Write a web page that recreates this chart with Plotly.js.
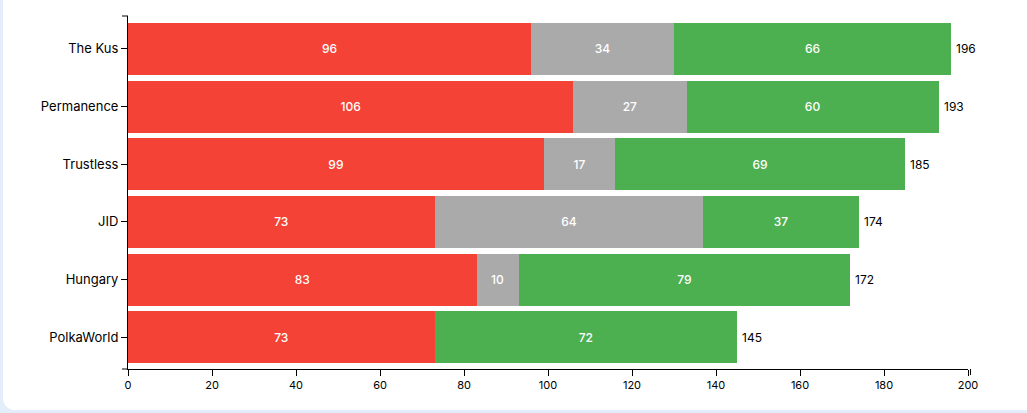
<!DOCTYPE html>
<html>
<head>
<meta charset="utf-8">
<script src="https://cdn.plot.ly/plotly-3.0.1.min.js"></script>
<style>
  html, body { margin: 0; padding: 0; width: 1027px; height: 413px; overflow: hidden; background: #e4eefb; }
  #card { position: absolute; left: 3px; top: -20px; width: 1060px; height: 430px; background: #ffffff; border-radius: 12px; }
  #chart { position: absolute; left: 0; top: 0; width: 1027px; height: 413px; }
</style>
</head>
<body>
<div id="card"></div>
<div id="chart"></div>
<script>
const categories = ["The Kus", "Permanence", "Trustless", "JID", "Hungary", "PolkaWorld"];
const redValues = [96, 106, 99, 73, 83, 73];
const greyValues = [34, 27, 17, 64, 10, 0];
const greenValues = [66, 60, 69, 37, 79, 72];
const xTicks = [0, 20, 40, 60, 80, 100, 120, 140, 160, 180, 200];

const totals = categories.map((c, i) => redValues[i] + greyValues[i] + greenValues[i]);

function barTrace(vals, color) {
  return {
    type: "bar",
    orientation: "h",
    y: categories,
    x: vals,
    width: 0.9,
    marker: { color: color, line: { width: 0 } },
    text: vals.map(v => v > 0 ? String(v) : ""),
    textposition: "inside",
    insidetextanchor: "middle",
    textfont: { color: "#ffffff", size: 12, family: "Inter, sans-serif", weight: 500 },
    constraintext: "none",
    hoverinfo: "skip"
  };
}

const data = [
  barTrace(redValues, "#f44336"),
  barTrace(greyValues, "#aaaaaa"),
  barTrace(greenValues, "#4caf50")
];

const annotations = categories.map((c, i) => ({
  x: totals[i], y: c, xref: "x", yref: "y",
  text: String(totals[i]), showarrow: false,
  xanchor: "left", xshift: 3,
  font: { size: 12, color: "#000000", family: "Inter, sans-serif" }
}));

const axisColor = "#000000";

const layout = {
  width: 1027, height: 413,
  margin: { l: 128, r: 59, t: 16, b: 44 },
  paper_bgcolor: "rgba(0,0,0,0)",
  plot_bgcolor: "rgba(0,0,0,0)",
  barmode: "stack",
  showlegend: false,
  font: { family: "Inter, sans-serif", color: "#000000", size: 12 },
  xaxis: {
    range: [0, 200],
    tickvals: xTicks,
    ticktext: xTicks.map(String),
    ticks: "outside", ticklen: 6, tickwidth: 1, tickcolor: axisColor,
    showline: true, linecolor: axisColor, linewidth: 1,
    showgrid: false, zeroline: false,
    tickfont: { size: 11, family: "Inter, sans-serif", color: "#000" }
  },
  yaxis: {
    type: "category",
    categoryorder: "array",
    categoryarray: categories,
    range: [5.55, -0.57],
    ticks: "outside", ticklen: 6, tickwidth: 1, tickcolor: axisColor,
    showline: true, linecolor: axisColor, linewidth: 1,
    showgrid: false, zeroline: false,
    tickfont: { size: 13, family: "Inter, sans-serif", color: "#000" }
  },
  annotations: annotations,
  shapes: [
    { type: "line", xref: "paper", yref: "paper", xsizemode: "pixel", xanchor: 0, x0: -6, x1: 0, y0: 1, y1: 1, line: { color: axisColor, width: 1 } },
    { type: "line", xref: "paper", yref: "paper", xsizemode: "pixel", xanchor: 0, x0: -6, x1: 0, y0: 0, y1: 0, line: { color: axisColor, width: 1 } },
    { type: "line", xref: "paper", yref: "paper", ysizemode: "pixel", yanchor: 0, x0: 1.003, x1: 1.003, y0: -6, y1: 0, line: { color: axisColor, width: 1 } }
  ]
};

Plotly.newPlot("chart", data, layout, { displayModeBar: false, staticPlot: true });
</script>
</body>
</html>
